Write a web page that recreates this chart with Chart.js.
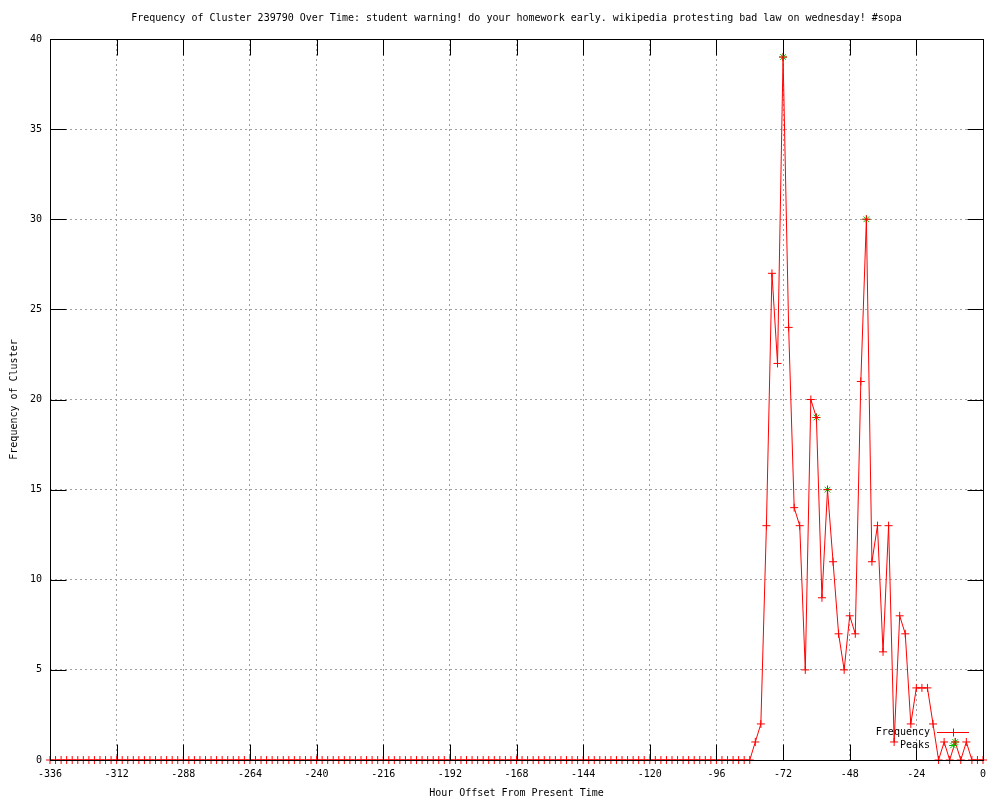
<!DOCTYPE html>
<html>
<head>
<meta charset="utf-8">
<script src="https://cdn.jsdelivr.net/npm/chart.js@4/dist/chart.umd.min.js"></script>
<style>
  body { margin: 0; background: #fff; }
  #wrap { width: 1000px; height: 800px; }
</style>
</head>
<body>
<div id="wrap"><canvas id="myChart" width="1000" height="800"></canvas></div>
<script>
  // Hour offsets (every 2 hours)
  const hours = [
    -336,-334,-332,-330,-328,-326,-324,-322,-320,-318,-316,-314,
    -312,-310,-308,-306,-304,-302,-300,-298,-296,-294,-292,-290,
    -288,-286,-284,-282,-280,-278,-276,-274,-272,-270,-268,-266,
    -264,-262,-260,-258,-256,-254,-252,-250,-248,-246,-244,-242,
    -240,-238,-236,-234,-232,-230,-228,-226,-224,-222,-220,-218,
    -216,-214,-212,-210,-208,-206,-204,-202,-200,-198,-196,-194,
    -192,-190,-188,-186,-184,-182,-180,-178,-176,-174,-172,-170,
    -168,-166,-164,-162,-160,-158,-156,-154,-152,-150,-148,-146,
    -144,-142,-140,-138,-136,-134,-132,-130,-128,-126,-124,-122,
    -120,-118,-116,-114,-112,-110,-108,-106,-104,-102,-100,-98,
    -96,-94,-92,-90,-88,-86,-84,-82,-80,-78,-76,-74,
    -72,-70,-68,-66,-64,-62,-60,-58,-56,-54,-52,-50,
    -48,-46,-44,-42,-40,-38,-36,-34,-32,-30,-28,-26,
    -24,-22,-20,-18,-16,-14,-12,-10,-8,-6,-4,-2,
    0
  ];

  const frequency = [
    0,0,0,0,0,0,0,0,0,0,0,0,
    0,0,0,0,0,0,0,0,0,0,0,0,
    0,0,0,0,0,0,0,0,0,0,0,0,
    0,0,0,0,0,0,0,0,0,0,0,0,
    0,0,0,0,0,0,0,0,0,0,0,0,
    0,0,0,0,0,0,0,0,0,0,0,0,
    0,0,0,0,0,0,0,0,0,0,0,0,
    0,0,0,0,0,0,0,0,0,0,0,0,
    0,0,0,0,0,0,0,0,0,0,0,0,
    0,0,0,0,0,0,0,0,0,0,0,0,
    0,0,0,0,0,0,0,1,2,13,27,22,
    39,24,14,13,5,20,19,9,15,11,7,5,
    8,7,21,30,11,13,6,13,1,8,7,2,
    4,4,4,2,0,1,0,1,0,1,0,0,
    0
  ];

  const peakHours = [-72, -60, -56, -42, -10];
  const peakValues = [39, 19, 15, 30, 1];

  const titleText = 'Frequency of Cluster 239790 Over Time: student warning! do your homework early. wikipedia protesting bad law on wednesday! #sopa';

  const monoFont = "'DejaVu Sans Mono', 'Liberation Mono', monospace";
  Chart.defaults.font.family = monoFont;
  Chart.defaults.font.size = 10;
  Chart.defaults.color = '#000';

  const tickLen = 16;

  // border box + inward tics like gnuplot
  const frameTicks = {
    id: 'frameTicks',
    afterDatasetsDraw(chart) {
      const {ctx, chartArea: a, scales: {x, y}} = chart;
      const l = Math.round(a.left) + 0.5, r = Math.round(a.right) + 0.5;
      const t = Math.round(a.top) + 0.5, b = Math.round(a.bottom) + 0.5;
      ctx.save();
      ctx.strokeStyle = '#000';
      ctx.lineWidth = 1;
      ctx.beginPath();
      x.ticks.forEach(tk => {
        const px = Math.round(x.getPixelForValue(tk.value)) + 0.5;
        ctx.moveTo(px, b); ctx.lineTo(px, b - tickLen);
        ctx.moveTo(px, t); ctx.lineTo(px, t + tickLen);
      });
      y.ticks.forEach(tk => {
        const py = Math.round(y.getPixelForValue(tk.value)) + 0.5;
        ctx.moveTo(l, py); ctx.lineTo(l + tickLen, py);
        ctx.moveTo(r, py); ctx.lineTo(r - tickLen, py);
      });
      ctx.stroke();
      ctx.strokeRect(l, t, r - l, b - t);
      ctx.restore();
    }
  };

  // key in the lower right corner
  const keyBox = {
    id: 'keyBox',
    afterDraw(chart) {
      const {ctx, chartArea: a} = chart;
      const ds = chart.data.datasets;
      const textX = a.right - 53;
      const x1 = a.right - 46, x2 = a.right - 14, mx = a.right - 30;
      const rows = [a.bottom - 28, a.bottom - 15];
      ctx.save();
      ctx.font = '10px ' + monoFont;
      ctx.textAlign = 'right';
      ctx.textBaseline = 'middle';
      ctx.fillStyle = '#000';
      ctx.lineWidth = 1;
      ds.forEach((d, i) => {
        const yy = rows[i] + 0.5;
        ctx.fillText(d.label, textX, yy);
        ctx.strokeStyle = d.borderColor;
        ctx.beginPath();
        if (d.showLine !== false) {
          ctx.moveTo(x1, yy); ctx.lineTo(x2, yy);
        }
        const s = 4;
        ctx.moveTo(mx - s, yy); ctx.lineTo(mx + s, yy);
        ctx.moveTo(mx + 0.5, yy - s); ctx.lineTo(mx + 0.5, yy + s);
        if (d.pointStyle === 'star') {
          const q = s * 0.7;
          ctx.moveTo(mx - q, yy - q); ctx.lineTo(mx + q, yy + q);
          ctx.moveTo(mx - q, yy + q); ctx.lineTo(mx + q, yy - q);
        }
        ctx.stroke();
      });
      ctx.restore();
    }
  };

  function plotChart() {
    const ctx = document.getElementById('myChart').getContext('2d');
    new Chart(ctx, {
      type: 'line',
      data: {
        datasets: [
          {
            label: 'Frequency',
            data: hours.map((h, i) => ({x: h, y: frequency[i]})),
            borderColor: '#ff0000',
            backgroundColor: '#ff0000',
            borderWidth: 1,
            tension: 0,
            fill: false,
            pointStyle: 'cross',
            pointRadius: 4,
            pointBorderWidth: 1,
            pointBorderColor: '#ff0000',
            clip: false,
            order: 0
          },
          {
            label: 'Peaks',
            data: peakHours.map((h, i) => ({x: h, y: peakValues[i]})),
            borderColor: '#00c000',
            backgroundColor: '#00c000',
            showLine: false,
            pointStyle: 'star',
            pointRadius: 4,
            pointBorderWidth: 1,
            pointBorderColor: '#00c000',
            clip: false,
            order: 1
          }
        ]
      },
      options: {
        responsive: false,
        animation: false,
        devicePixelRatio: 1,
        layout: { padding: { left: 0, right: 17, top: 0, bottom: 0 } },
        plugins: {
          legend: { display: false },
          tooltip: { enabled: false },
          title: {
            display: true,
            text: titleText,
            fullSize: false,
            color: '#000',
            font: { size: 10, weight: 'normal', family: monoFont },
            padding: { top: 12, bottom: 15 }
          }
        },
        scales: {
          x: {
            type: 'linear',
            min: -336,
            max: 0,
            afterFit: s => { s.height = 40; },
            ticks: { stepSize: 24, padding: 8, maxRotation: 0, autoSkip: false, color: '#000' },
            grid: { color: '#a0a0a0', lineWidth: 1, drawTicks: false },
            border: { display: false, dash: [2, 3] },
            title: {
              display: true,
              text: 'Hour Offset From Present Time',
              color: '#000',
              padding: { top: 0, bottom: 1 }
            }
          },
          y: {
            min: 0,
            max: 40,
            afterFit: s => { s.width = 50; },
            ticks: { stepSize: 5, padding: 8, color: '#000' },
            grid: { color: '#a0a0a0', lineWidth: 1, drawTicks: false },
            border: { display: false, dash: [2, 3] },
            title: {
              display: true,
              text: 'Frequency of Cluster',
              color: '#000',
              padding: { top: 8, bottom: 0 }
            }
          }
        }
      },
      plugins: [frameTicks, keyBox]
    });
  }

  window.addEventListener('DOMContentLoaded', plotChart);
</script>
</body>
</html>
